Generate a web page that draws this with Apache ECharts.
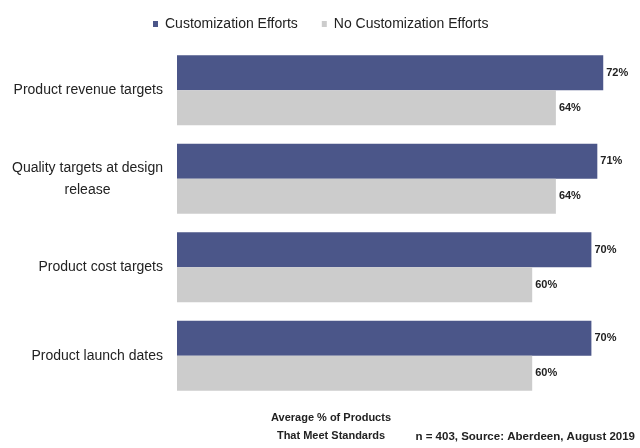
<!DOCTYPE html>
<html>
<head>
<meta charset="utf-8">
<style>
  html, body { margin: 0; padding: 0; background: #ffffff; }
  #chart { width: 640px; height: 448px; }
</style>
<script src="https://cdn.jsdelivr.net/npm/echarts@6/dist/echarts.min.js"></script>
</head>
<body>
<div id="chart"></div>
<script>
// Share of products meeting standards, by goal type
const categories = [
  'Product revenue targets',
  'Quality targets at design\nrelease',
  'Product cost targets',
  'Product launch dates'
];
const seriesNames = ['Customization Efforts', 'No Customization Efforts'];
const customizationValues = [72, 71, 70, 70];
const noCustomizationValues = [64, 64, 60, 60];
const axisTitle = 'Average % of Products\nThat Meet Standards';
const sourceNote = 'n = 403, Source: Aberdeen, August 2019';

const FONT = '"Liberation Sans Narrow", "Arial Narrow", "Liberation Sans", Arial, sans-serif';
const BLUE = '#4b5689';
const GREY = '#cccccc';
const TEXT = '#222222';

const chart = echarts.init(document.getElementById('chart'), null, { renderer: 'canvas' });

// Multi-line category labels are centred line by line inside a right-aligned block
function categoryFormatter(value) {
  return value.split('\n').map(line => '{c|' + line + '}').join('\n');
}

const valueLabel = {
  show: true,
  position: 'right',
  distance: 3,
  formatter: p => p.value + '%',
  color: TEXT,
  fontFamily: FONT,
  fontWeight: 'bold',
  fontSize: 11
};

chart.setOption({
  animation: false,
  backgroundColor: '#ffffff',
  textStyle: { fontFamily: FONT },
  title: [
    {
      text: axisTitle,
      left: 326,
      top: 404,
      textAlign: 'center',
      textStyle: {
        fontFamily: FONT, fontSize: 11, fontWeight: 'bold',
        color: TEXT, lineHeight: 18, align: 'center'
      }
    },
    {
      text: sourceNote,
      right: 0,
      top: 426,
      textStyle: {
        fontFamily: FONT, fontSize: 11.5, fontWeight: 'bold', color: TEXT
      }
    }
  ],
  legend: {
    data: seriesNames,
    top: 12,
    left: 148,
    icon: 'rect',
    itemWidth: 5,
    itemHeight: 6,
    itemGap: 24,
    textStyle: { fontFamily: FONT, fontSize: 14, color: TEXT, padding: [0, 0, 0, 2] }
  },
  grid: {
    left: 177,
    top: 46,
    width: 444,
    height: 354,
    containLabel: false
  },
  xAxis: {
    type: 'value',
    min: 0,
    max: 75,
    axisLine: { show: false },
    axisTick: { show: false },
    axisLabel: { show: false },
    splitLine: { show: false }
  },
  yAxis: {
    type: 'category',
    data: categories,
    inverse: true,
    axisLine: { show: false },
    axisTick: { show: false },
    axisLabel: {
      margin: 14,
      formatter: categoryFormatter,
      rich: {
        c: {
          fontFamily: FONT, fontSize: 14, color: TEXT,
          lineHeight: 22, align: 'center'
        }
      }
    }
  },
  series: [
    {
      name: seriesNames[0],
      type: 'bar',
      data: customizationValues,
      barWidth: 35,
      barGap: '0%',
      itemStyle: { color: BLUE },
      label: valueLabel
    },
    {
      name: seriesNames[1],
      type: 'bar',
      data: noCustomizationValues,
      barWidth: 35,
      barGap: '0%',
      itemStyle: { color: GREY },
      label: valueLabel
    }
  ]
});
</script>
</body>
</html>
